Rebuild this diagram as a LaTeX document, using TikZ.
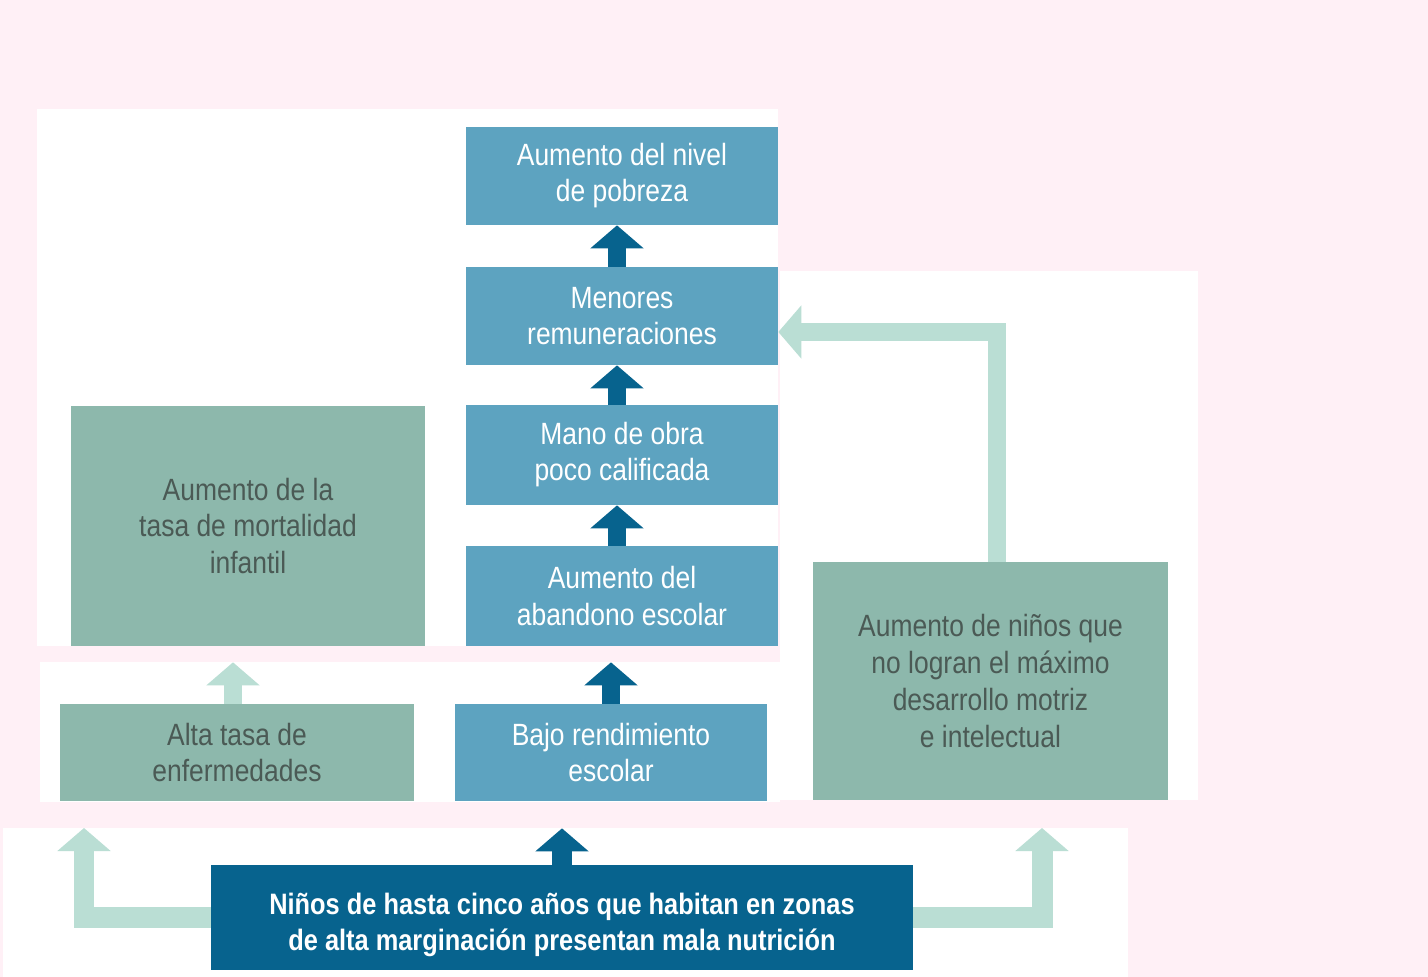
\documentclass[tikz,border=0pt]{standalone}
\usepackage{fontspec}
\setmainfont{Liberation Sans}[FakeStretch=0.86]
\usetikzlibrary{arrows.meta}
\definecolor{bgpink}{HTML}{FFF0F6}
\definecolor{boxblue}{HTML}{5DA3C0}
\definecolor{boxgreen}{HTML}{8DB8AC}
\definecolor{darkblue}{HTML}{07638E}
\definecolor{palegreen}{HTML}{BADED4}
\definecolor{greytext}{HTML}{4B5A55}

\begin{document}
\begin{tikzpicture}[x=0.02cm,y=-0.02cm,
    bluebox/.style={fill=boxblue,text=white,inner sep=0pt,align=center,
      minimum width=6.24cm,font=\fontsize{17.5}{20.5}\selectfont},
    greenbox/.style={fill=boxgreen,text=greytext,inner sep=0pt,align=center,
      minimum width=7.08cm,font=\fontsize{17.5}{20.5}\selectfont},
    darkarrow/.style={draw=darkblue,line width=0.36cm,
      -{Triangle[width=1.04cm,length=0.46cm]}},
    lightarrow/.style={draw=palegreen,line width=0.36cm,
      -{Triangle[width=1.04cm,length=0.46cm]}}]

    % background
    \fill[bgpink] (0,0) rectangle (1428,977);
    \useasboundingbox (0,0) rectangle (1428,977);
    \fill[white] (37,109) rectangle (778,646);
    \fill[white] (40,662) rectangle (780,802);
    \fill[white] (780,271) rectangle (1198,800);
    \fill[white] (3,828) rectangle (1128,977);

    \node[bluebox, minimum height=1.96cm] (pobreza) at (622,176) {Aumento del nivel\\de pobreza};
    \node[bluebox, minimum height=1.96cm] (menores) at (622,316) {Menores\\remuneraciones};
    \node[bluebox, minimum height=2cm] (mano) at (622,455) {Mano de obra\\poco calificada};
    \node[bluebox, minimum height=2cm] (abandono) at (622,596) {Aumento del\\abandono escolar};
    \node[bluebox, minimum height=1.94cm] (rendimiento) at (611,752.5) {Bajo rendimiento\\escolar};

    \node[greenbox, minimum height=4.8cm] (mortalidad) at (248,526) {Aumento de la\\tasa de mortalidad\\infantil};
    \node[greenbox, minimum height=1.94cm] (enfermedades) at (237,752.5) {Alta tasa de\\enfermedades};
    \node[greenbox, minimum width=7.1cm, minimum height=4.76cm,
      font=\fontsize{17.5}{21.2}\selectfont] (ninos) at (990.5,681)
      {Aumento de niños que\\no logran el máximo\\desarrollo motriz\\e intelectual};

    \node[bluebox, fill=darkblue, minimum width=14.04cm, minimum height=2.1cm,
      font=\fontsize{16.8}{20.5}\selectfont\bfseries] (nutricion) at (562,917.5)
      {\rule{0pt}{0.74cm}Niños de hasta cinco años que habitan en zonas\\de alta marginación presentan mala nutrición};

    \coordinate (codo) at (997,332);
    \coordinate (puntaL) at (84,828);
    \coordinate (puntaR) at (1042,828);

    \draw[darkarrow] ([xshift=-0.1cm]menores.north) -- ([xshift=-0.1cm]pobreza.south);
    \draw[darkarrow] ([xshift=-0.1cm]mano.north) -- ([xshift=-0.1cm]menores.south);
    \draw[darkarrow] ([xshift=-0.1cm]abandono.north) -- ([xshift=-0.1cm]mano.south);
    \draw[darkarrow, shorten >=0.32cm] (rendimiento.north) -- (rendimiento.north |- abandono.south);
    \draw[darkarrow, line width=0.4cm, shorten >=0.54cm] (nutricion.north) -- (nutricion.north |- rendimiento.south);

    \draw[lightarrow, shorten >=0.32cm] ([xshift=-0.08cm]enfermedades.north) -- ([xshift=-0.08cm]enfermedades.north |- mortalidad.south);
    \draw[lightarrow] (codo |- ninos.north) |- (menores.east |- codo);
    \draw[lightarrow, line width=0.42cm] (nutricion.west) -| (puntaL);
    \draw[lightarrow, line width=0.42cm] (nutricion.east) -| (puntaR);
\end{tikzpicture}
\end{document}
